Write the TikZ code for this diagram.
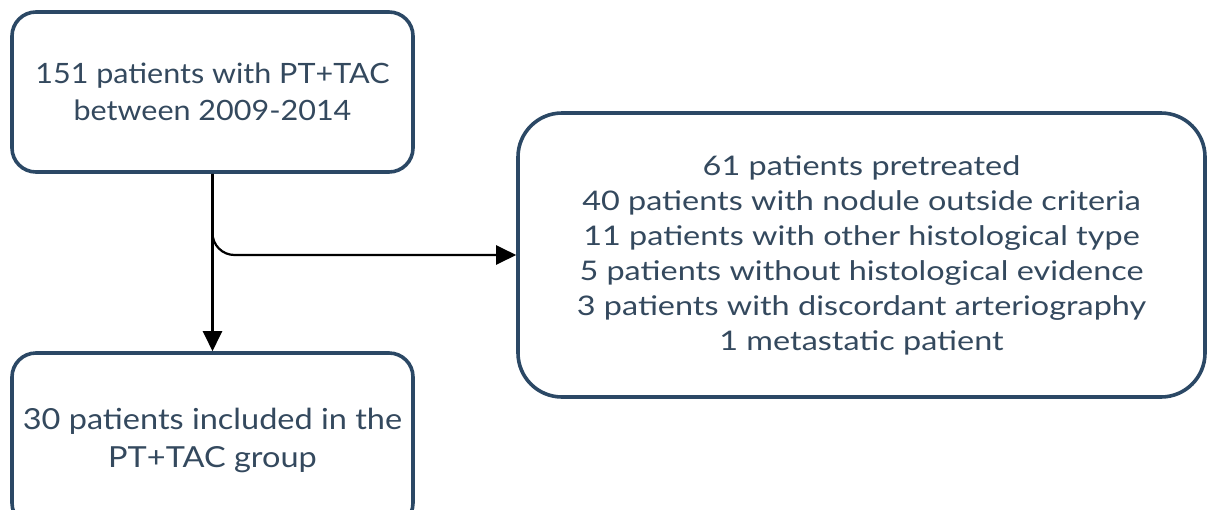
\documentclass[tikz,border=0pt]{standalone}
\usepackage{fontspec}
\setmainfont{Lato}
\newfontfamily\topfont[FakeStretch=1.09]{Lato}
\newfontfamily\botfont[FakeStretch=1.12]{Lato}
\newfontfamily\rightfont[FakeStretch=1.2]{Lato}
\usetikzlibrary{arrows.meta}
\definecolor{boxline}{HTML}{2B4865}
\definecolor{boxtext}{HTML}{34495E}
\tikzset{
  flowbox/.style={draw=boxline, line width=3.6pt, rounded corners=#1, fill=white,
    align=center, text=boxtext, inner sep=0pt},
  conn/.style={draw=black, line width=2.2pt, -{Triangle[length=20pt,width=19pt]}}
}
\begin{document}
\begin{tikzpicture}[x=1pt,y=-1pt]
\useasboundingbox (0,0) rectangle (1209,509);
\clip (0,0) rectangle (1209,509);
\node[flowbox=24pt, minimum width=401pt, minimum height=160pt,
  font=\topfont\fontsize{28}{37}\selectfont] (top) at (212.5,92)
  {151 patients with PT+TAC\\between 2009-2014};
\node[flowbox=24pt, minimum width=401pt, minimum height=174pt,
  font=\botfont\fontsize{29}{38}\selectfont] (bottom) at (212.5,440)
  {30 patients included in the\\PT+TAC group};
\node[flowbox=44pt, minimum width=687pt, minimum height=284pt,
  font=\rightfont\fontsize{27}{35}\selectfont] (right) at (861.5,255)
  {61 patients pretreated\\40 patients with nodule outside criteria\\
   11 patients with other histological type\\5 patients without histological evidence\\
   3 patients with discordant arteriography\\1 metastatic patient};
\draw[conn] (top.south) -- (bottom.north);
\draw[conn, rounded corners=22pt] (top.south) |- (right.west);
\end{tikzpicture}
\end{document}
